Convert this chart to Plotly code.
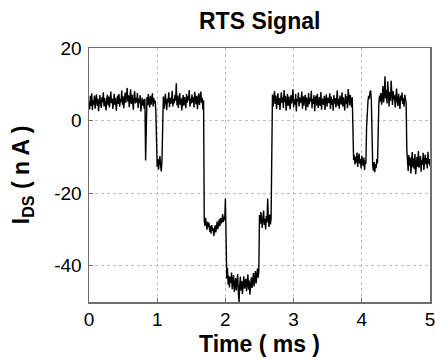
import plotly.graph_objects as go

DT = 0.01  # ms between samples

# segment start times (ms) and hand-read current samples (nA)
seg_starts = [0.00, 0.83, 0.84, 0.99, 1.08, 1.69, 2.00, 2.01, 2.50, 2.68, 3.87, 4.07, 4.15, 4.24, 4.66]

s1 = [5.2, 3.1, 6.8, 4.0, 7.5, 2.9, 5.6, 4.4, 6.9, 3.3, 5.8, 7.2, 4.1, 6.0, 2.6, 5.3, 7.0, 4.7, 3.5, 6.4,
      5.0, 7.8, 3.9, 6.2, 4.5, 2.8, 5.9, 7.1, 4.2, 6.6, 3.6, 5.4, 8.0, 4.8, 6.1, 3.2, 5.7, 7.4, 4.3, 6.3,
      2.7, 5.5, 6.9, 4.6, 7.3, 3.8, 6.0, 5.1, 8.3, 4.4, 6.7, 3.4, 5.9, 7.7, 4.9, 6.5, 9.0, 5.2, 7.0, 3.7,
      6.4, 8.6, 4.6, 7.2, 5.3, 3.0, 6.8, 8.1, 4.7, 6.2, 5.0, 7.6, 3.5, 6.1, 4.8, 7.0, 2.5, 5.6, 6.3, 4.1,
      5.8, 3.3, 6.0]
s2 = [-11.0]
s3 = [2.0, 6.5, 4.2, 7.3, 5.1, 3.6, 6.8, 4.4, 5.9, 7.5, 3.9, 6.2, 4.7, 5.5, 2.4]
s4 = [-9.5, -12.8, -10.6, -13.5, -11.2, -9.8, -12.4, -14.0, -11.0]
s5 = [4.0, 6.6, 3.2, 5.8, 7.4, 4.5, 2.9, 6.1, 5.0, 7.8, 3.7, 6.3, 4.6, 5.4, 8.2, 3.9, 6.0, 4.8, 7.1, 5.5,
      10.3, 4.2, 6.9, 3.5, 5.7, 7.6, 4.4, 6.2, 2.8, 5.9, 7.0, 4.1, 6.5, 5.2, 3.4, 7.3, 4.9, 6.7, 5.6, 8.4,
      3.8, 6.1, 4.7, 7.2, 5.0, 6.4, 3.6, 7.9, 5.3, 4.5, 6.8, 3.1, 6.0, 7.5, 4.3, 5.7, 8.0, 4.9, 6.3, 3.0,
      5.6]
s6 = [-27.5, -29.0, -26.8, -28.6, -30.1, -27.9, -29.4, -28.2, -30.6, -29.0, -31.2, -28.8, -30.4, -29.6, -31.8,
      -30.2, -28.9, -30.8, -29.3, -27.8, -29.9, -28.4, -27.2, -29.1, -26.9, -28.3, -27.6, -25.8, -28.0, -26.5,
      -27.4]
s7 = [-21.5]
s8 = [-41.0, -43.5, -40.6, -45.2, -42.8, -46.0, -43.1, -44.7, -41.9, -46.5, -44.0, -42.6, -47.2, -45.1, -43.4,
      -46.8, -44.6, -42.3, -47.5, -50.0, -45.3, -43.0, -46.9, -44.2, -47.8, -45.6, -42.9, -46.3, -44.8, -43.6,
      -47.0, -45.0, -42.4, -46.6, -44.1, -48.0, -45.4, -43.2, -46.1, -44.5, -42.0, -45.7, -43.8, -41.5, -44.9,
      -42.7, -40.8, -43.3, -41.6]
s9 = [-26.0, -28.4, -25.2, -27.9, -29.6, -26.7, -24.8, -28.8, -27.1, -30.0, -26.3, -28.1, -21.5, -27.4, -29.3,
      -25.9, -28.6, -27.0]
s10 = [5.4, 7.2, 3.8, 6.5, 8.1, 4.6, 6.9, 3.2, 5.8, 7.5, 4.3, 6.2, 2.9, 5.6, 7.8, 4.9, 6.4, 3.5, 8.4, 5.1,
       6.8, 2.7, 5.3, 7.4, 4.0, 6.6, 5.0, 3.1, 7.0, 4.7, 6.1, 8.6, 3.6, 5.7, 4.4, 7.3, 2.5, 6.0, 5.2, 7.7,
       3.9, 6.3, 4.8, 5.5, 8.0, 3.3, 6.7, 4.1, 5.9, 7.1, 2.8, 6.4, 5.0, 3.7, 7.6, 4.5, 6.2, 5.3, 8.2, 3.4,
       6.0, 4.6, 7.0, 2.6, 5.8, 6.9, 4.2, 7.4, 3.5, 5.6, 6.5, 4.0, 7.9, 3.0, 6.1, 5.4, 4.3, 6.8, 2.9, 5.7,
       7.2, 3.8, 6.3, 4.9, 5.1, 7.5, 3.2, 6.6, 4.4, 5.9, 2.7, 7.0, 4.7, 6.2, 3.6, 5.5, 8.3, 4.1, 6.0, 3.3,
       6.9, 5.2, 4.5, 7.8, 3.9, 6.4, 5.0, 2.8, 7.3, 4.6, 6.7, 3.4, 8.7, 5.6, 4.2, 7.1, 6.0, 3.7, 6.5]
s11 = [-8.2, -10.9, -9.4, -12.1, -10.0, -11.6, -8.8, -12.8, -10.4, -9.1, -11.9, -10.6, -13.2, -9.7, -11.3,
       -12.5, -10.2, -13.6, -11.0, -12.0]
s12 = [-2.0, 3.5, 5.2, 6.8, 6.0, 7.9, 8.3, 5.5]
s13 = [-9.0, -12.5, -13.8, -11.4, -14.2, -12.0, -13.1, -10.6, -11.8]
s14 = [1.5, 4.8, 6.9, 5.2, 7.6, 4.4, 6.3, 9.5, 5.0, 7.2, 12.2, 6.1, 8.4, 4.7, 10.8, 6.6, 3.9, 7.9, 5.5, 11.0,
       6.2, 4.3, 8.1, 5.8, 7.0, 3.6, 6.7, 8.8, 5.1, 4.0, 7.4, 6.0, 3.2, 6.9, 5.4, 7.7, 4.6, 6.2, 3.8, 7.1,
       5.7, 4.9]
s15 = [-8.0, -11.6, -13.9, -9.5, -12.4, -10.2, -14.6, -11.1, -8.7, -12.9, -10.5, -13.4, -9.2, -14.8, -11.8,
       -10.0, -12.7, -8.4, -13.0, -11.3, -9.8, -14.1, -10.8, -12.2, -8.9, -13.6, -11.5, -9.4, -12.0, -10.3,
       -13.2, -8.6, -11.9, -10.6, -12.6]

segments = [s1, s2, s3, s4, s5, s6, s7, s8, s9, s10, s11, s12, s13, s14, s15]

x_ticks = [0, 1, 2, 3, 4, 5]
y_ticks = [-40, -20, 0, 20]
y_tick_text = ["-40", "-20", "0", "20"]

t, i_ds = [], []
for start, seg in zip(seg_starts, segments):
    for k, v in enumerate(seg):
        t.append(round(start + k * DT, 4))
        i_ds.append(v)

fig = go.Figure(go.Scatter(x=t, y=i_ds, mode="lines",
                           line=dict(color="black", width=1.4), showlegend=False))

FONT = "Liberation Sans, Arial, sans-serif"
axis_common = dict(showline=True, mirror=True, linecolor="#6e6e6e", linewidth=1.5,
                   showgrid=True, gridcolor="#bdbdbd", griddash="dot", gridwidth=1,
                   ticks="inside", ticklen=4, tickcolor="#6e6e6e", zeroline=False,
                   automargin=False, ticklabeloverflow="allow",
                   tickfont=dict(family=FONT, size=19, color="black"))

fig.update_xaxes(range=[0, 5], tickvals=x_ticks, ticklabelstandoff=0, **axis_common)
fig.update_yaxes(range=[-50, 20], tickvals=y_ticks, ticktext=y_tick_text,
                 ticklabelstandoff=2, **axis_common)

fig.update_layout(
    width=435, height=358,
    margin=dict(l=89, r=5, t=48, b=56),
    paper_bgcolor="white", plot_bgcolor="white",
    annotations=[
        dict(text="<b>RTS Signal</b>", xref="paper", yref="paper", x=0.5, y=1.106,
             xanchor="center", yanchor="middle", showarrow=False,
             font=dict(family=FONT, size=23, color="black")),
        dict(text="<b>Time ( ms )</b>", xref="paper", yref="paper", x=0.5, y=-0.165,
             xanchor="center", yanchor="middle", showarrow=False,
             font=dict(family=FONT, size=23, color="black")),
        dict(text="<b>I<sub>DS</sub> ( n A )</b>", xref="paper", yref="paper", x=-0.196, y=0.5,
             xanchor="center", yanchor="middle", showarrow=False, textangle=-90,
             font=dict(family=FONT, size=23, color="black")),
    ],
)

fig.write_html("out.html", config={"displayModeBar": False, "staticPlot": True},
               post_script="document.body.style.margin='0';document.body.style.padding='0';")
